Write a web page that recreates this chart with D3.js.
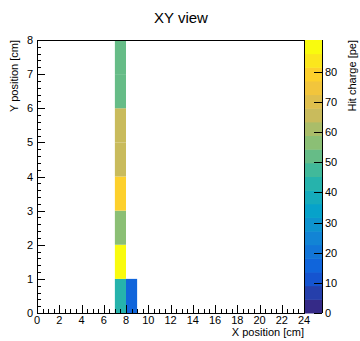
<!DOCTYPE html>
<html>
<head>
<meta charset="utf-8">
<script src="https://cdn.jsdelivr.net/npm/d3@7"></script>
<style>
  body { margin: 0; background: #fff; }
  svg { font-family: "Liberation Sans", Arial, sans-serif; }
</style>
</head>
<body>
<svg id="chart" width="360" height="341"></svg>
<script>
// hit bins: x index, y index, charge
var hitX = [7, 7, 7, 7, 7, 7, 7, 7, 8]
var hitY = [0, 1, 2, 3, 4, 5, 6, 7, 0]
var hitCharge = [45, 90, 57, 77, 65, 65, 53, 53, 18]

var xTicks = [0, 2, 4, 6, 8, 10, 12, 14, 16, 18, 20, 22, 24]
var yTicks = [0, 1, 2, 3, 4, 5, 6, 7, 8]
var zTicks = [0, 10, 20, 30, 40, 50, 60, 70, 80]
var zMax = 90.5
var nContours = 20

// ROOT kBird palette stops
var birdStops = [0.0, 0.125, 0.25, 0.375, 0.5, 0.625, 0.75, 0.875, 1.0]
var birdR = [0.2082, 0.0592, 0.0780, 0.0232, 0.1802, 0.5301, 0.8186, 0.9956, 0.9764]
var birdG = [0.1664, 0.3599, 0.5041, 0.6419, 0.7178, 0.7492, 0.7328, 0.7862, 0.9832]
var birdB = [0.5293, 0.8684, 0.8385, 0.7914, 0.6425, 0.4662, 0.3499, 0.1968, 0.0539]

var bird = d3.scaleLinear().domain(birdStops)
  .range(birdStops.map(function (s, i) { return d3.rgb(birdR[i] * 255, birdG[i] * 255, birdB[i] * 255) }))
  .interpolate(d3.interpolateRgb)

function bandColor (i) { return bird(i / (nContours - 1)) }
function valueColor (v) {
  var i = Math.min(nContours - 1, Math.floor(v / zMax * nContours))
  return bandColor(i)
}

var svg = d3.select('#chart')
var padL = 37, padR = 304, padT = 40, padB = 313

var x = d3.scaleLinear().domain([0, 24]).range([padL, padR])
var y = d3.scaleLinear().domain([0, 8]).range([padB, padT])
var z = d3.scaleLinear().domain([0, zMax]).range([padB, padT])

// title
svg.append('text').attr('x', 181).attr('y', 23).attr('text-anchor', 'middle')
  .style('font-size', '15px').text('XY view')

// cells
svg.append('g').selectAll('rect')
  .data(hitCharge)
  .enter()
  .append('rect')
  .attr('x', function (d, i) { return x(hitX[i]) })
  .attr('y', function (d, i) { return y(hitY[i] + 1) })
  .attr('width', function (d, i) { return x(hitX[i] + 1) - x(hitX[i]) })
  .attr('height', function (d, i) { return y(hitY[i]) - y(hitY[i] + 1) })
  .attr('fill', function (d) { return valueColor(d) })

// frame
svg.append('rect').attr('x', padL + 0.5).attr('y', padT + 0.5)
  .attr('width', padR - padL).attr('height', padB - padT)
  .attr('fill', 'none').attr('stroke', '#000').attr('stroke-width', 1)

// x ticks
var xMinor = d3.range(0, 24.01, 0.5)
svg.append('g').selectAll('line').data(xMinor).enter().append('line')
  .attr('x1', function (d) { return Math.round(x(d)) + 0.5 })
  .attr('x2', function (d) { return Math.round(x(d)) + 0.5 })
  .attr('y1', padB)
  .attr('y2', function (d) { return d % 2 === 0 ? padB - 8 : padB - 4 })
  .attr('stroke', '#000')

svg.append('g').selectAll('text').data(xTicks).enter().append('text')
  .attr('x', function (d) { return x(d) })
  .attr('y', 324)
  .attr('text-anchor', 'middle')
  .style('font-size', '11px')
  .text(function (d) { return d })

svg.append('text').attr('x', padR).attr('y', 336).attr('text-anchor', 'end')
  .style('font-size', '11px').text('X position [cm]')

// y ticks
var yMinor = d3.range(0, 8.001, 0.2)
svg.append('g').selectAll('line').data(yMinor).enter().append('line')
  .attr('y1', function (d) { return Math.round(y(d)) + 0.5 })
  .attr('y2', function (d) { return Math.round(y(d)) + 0.5 })
  .attr('x1', padL)
  .attr('x2', function (d) { return Math.abs(d - Math.round(d)) < 1e-6 ? padL + 8 : padL + 4 })
  .attr('stroke', '#000')

svg.append('g').selectAll('text').data(yTicks).enter().append('text')
  .attr('x', 33)
  .attr('y', function (d) { return y(d) + 4 })
  .attr('text-anchor', 'end')
  .style('font-size', '11px')
  .text(function (d) { return d })

svg.append('text').attr('transform', 'translate(18,' + padT + ') rotate(-90)')
  .attr('text-anchor', 'end')
  .style('font-size', '11px').text('Y position [cm]')

// colour bar
var barL = 305, barR = 322
svg.append('g').selectAll('rect').data(d3.range(nContours)).enter().append('rect')
  .attr('x', barL)
  .attr('width', barR - barL)
  .attr('y', function (i) { return z((i + 1) * zMax / nContours) })
  .attr('height', function (i) { return z(i * zMax / nContours) - z((i + 1) * zMax / nContours) + 0.5 })
  .attr('fill', function (i) { return bandColor(i) })

svg.append('line').attr('x1', barR + 0.5).attr('x2', barR + 0.5)
  .attr('y1', padT).attr('y2', padB).attr('stroke', '#000')

svg.append('g').selectAll('line').data(zTicks).enter().append('line')
  .attr('y1', function (d) { return Math.round(z(d)) + 0.5 })
  .attr('y2', function (d) { return Math.round(z(d)) + 0.5 })
  .attr('x1', barR)
  .attr('x2', barR - 8)
  .attr('stroke', '#000')

svg.append('g').selectAll('text').data(zTicks).enter().append('text')
  .attr('x', 325)
  .attr('y', function (d) { return z(d) + 4 })
  .style('font-size', '11px')
  .text(function (d) { return d })

svg.append('text').attr('transform', 'translate(356,' + padT + ') rotate(-90)')
  .attr('text-anchor', 'end')
  .style('font-size', '11px').text('Hit charge [pe]')
</script>
</body>
</html>
